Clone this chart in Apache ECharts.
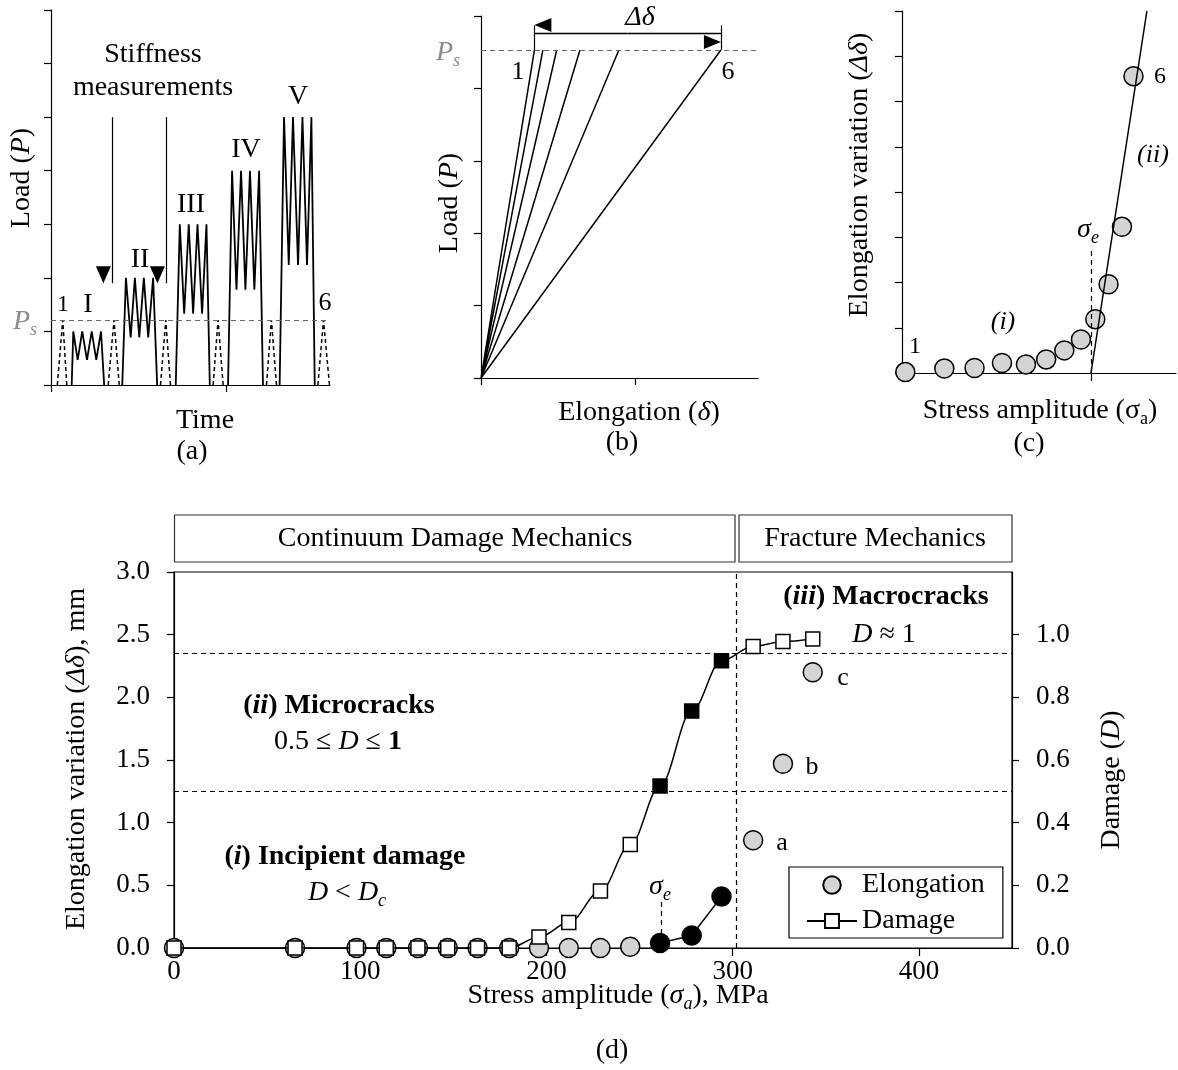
<!DOCTYPE html>
<html>
<head>
<meta charset="utf-8">
<script src="https://cdn.jsdelivr.net/npm/echarts@6/dist/echarts.min.js"></script>
<style>html,body{margin:0;padding:0;background:#fff}#chart{width:1178px;height:1070px}</style>
</head>
<body>
<div id="chart"></div>
<script>
var FONT = '"Liberation Serif", "Times New Roman", serif';

// ---- (a) load history (time, load) ----
var blockI   = [[11.8,0],[12.7,1.0],[15.2,0.47],[17.8,1.0],[20.5,0.47],[23.2,1.0],[25.8,0.47],[28.5,1.0],[30.3,0]];
var blockII  = [[40.6,0],[42.7,2.0],[45.4,0.89],[47.8,2.0],[50.3,0.89],[52.9,2.0],[55.4,0.89],[58.2,2.0],[60.5,0]];
var blockIII = [[71.1,0],[73.4,3.0],[75.9,1.33],[78.5,3.0],[81.0,1.33],[83.5,3.0],[86.1,1.33],[88.6,3.0],[90.5,0]];
var blockIV  = [[100.9,0],[103.2,4.0],[105.7,1.78],[108.3,4.0],[110.8,1.78],[113.4,4.0],[115.9,1.78],[118.6,4.0],[120.8,0]];
var blockV   = [[130.3,0],[132.8,5.0],[135.5,2.24],[137.9,5.0],[140.8,2.24],[143.3,5.0],[145.9,2.24],[148.4,5.0],[150.3,0]];
var checkTimes = [[3.6,6.7,9.0],[32.6,35.9,38.9],[62.4,65.4,68.1],[92.4,95.2,98.1],[122.8,125.6,128.5],[152.1,155.3,158.7]];
var psA = 1.21;
var arrowTimes = [34.7, 65.5];
var arrowFrom = 5.0, arrowTo = 1.9;

// ---- (b) load vs elongation ----
var secantTops = [34.7, 40.2, 49.2, 64.3, 89.6, 155.9];
var psB = 4.53;
var deltaY = 4.76, deltaTick = 4.87;

// ---- (c) schematic elongation variation ----
var cStress = [1.75, 22.4, 38.4, 52.9, 65.6, 76.3, 85.9, 94.7, 102.3, 109.3, 116.4, 122.5];
var cElong  = [0.02, 0.10, 0.11, 0.22, 0.19, 0.30, 0.50, 0.74, 1.19, 1.96, 3.23, 6.56];
var cFit    = [[100,0],[129.6,8]];
var cSigmaE = 100, cSigmaETop = 2.71;

// ---- (d) measured data ----
var stress     = [0,65,98,114,131,147,163,180,196,212,229,245,261,278,294,311,327,343];
var elongation = [0,0,0,0,0,0,0,0,0,0,0,0.01,0.04,0.10,0.41,0.86,1.47,2.20];
var damage     = [0,0,0,0,0,0,0,0,0.035,0.081,0.182,0.33,0.517,0.756,0.917,0.962,0.978,0.986];
var solidIdx = [12, 13, 14];
var dLow = 0.5, dHigh = 0.945, sigmaFM = 302;
var sigmaE = 261.7, sigmaETop = 0.38;

var chart = echarts.init(document.getElementById('chart'));

function axis(extra) {
  return Object.assign({
    type: 'value',
    axisLine: { show: true, onZero: false, lineStyle: { color: '#000', width: 1.2 } },
    axisTick: { show: true, inside: false, length: 7, lineStyle: { color: '#000', width: 1.2 } },
    axisLabel: { show: false },
    splitLine: { show: false }
  }, extra);
}

function rich(size, color) {
  color = color || '#000';
  var sub = Math.round(size * 0.65);
  var base = { fontFamily: FONT, fontSize: size, fill: color, lineHeight: size + 6 };
  return {
    n: base,
    i: Object.assign({}, base, { fontStyle: 'italic' }),
    b: Object.assign({}, base, { fontWeight: 'bold' }),
    bi: Object.assign({}, base, { fontWeight: 'bold', fontStyle: 'italic' }),
    s: { fontFamily: FONT, fontSize: sub, fill: color, verticalAlign: 'bottom', lineHeight: sub + 2 },
    si: { fontFamily: FONT, fontSize: sub, fill: color, fontStyle: 'italic', verticalAlign: 'bottom', lineHeight: sub + 2 }
  };
}

function T(x, y, text, size, color, rot) {
  return {
    type: 'text', x: x, y: y, rotation: rot || 0, silent: true, z: 100,
    style: { text: text, rich: rich(size, color), align: 'center', verticalAlign: 'middle' }
  };
}

var checkData = [];
checkTimes.forEach(function (c) {
  checkData.push([c[0], 0], [c[1], psA], [c[2], 0], [c[2], null]);
});

var secantData = [];
secantTops.forEach(function (t) { secantData.push([0, 0], [t, psB]); });
var deltaMid = (secantTops[0] + secantTops[5]) / 2;

function styled(vals, xs) {
  return xs.map(function (s, i) {
    var d = { value: [s, vals[i]] };
    if (solidIdx.indexOf(i) >= 0) d.itemStyle = { color: '#000' };
    return d;
  });
}

function blockSeries(data) {
  return { type: 'line', xAxisIndex: 0, yAxisIndex: 0, data: data, symbol: 'none',
    lineStyle: { color: '#000', width: 1.8 }, silent: true };
}

var dashed = { color: '#000', width: 1.2, type: [5, 4] };

var option = {
  animation: false,
  backgroundColor: '#fff',
  textStyle: { fontFamily: FONT },
  grid: [
    { left: 51, top: 10, width: 279, height: 375, outerBoundsMode: 'none' },
    { left: 481, top: 16, width: 277, height: 362, outerBoundsMode: 'none' },
    { left: 902, top: 11, width: 274, height: 362, outerBoundsMode: 'none' },
    { left: 174, top: 572, width: 838, height: 376, show: true, borderColor: '#000', borderWidth: 1.2, outerBoundsMode: 'none' }
  ],
  xAxis: [
    axis({ gridIndex: 0, min: 0, max: 159, axisTick: { show: true, length: 7, customValues: [0, 100], lineStyle: { color: '#000', width: 1.2 } } }),
    axis({ gridIndex: 1, min: 0, max: 180, axisTick: { show: true, length: 7, customValues: [0, 100], lineStyle: { color: '#000', width: 1.2 } } }),
    axis({ gridIndex: 2, min: 0, max: 145, axisTick: { show: true, length: 8, customValues: [0, 100], lineStyle: { color: '#000', width: 1.2 } } }),
    axis({ gridIndex: 3, min: 0, max: 450, interval: 100,
      axisTick: { show: true, length: 8, customValues: [0, 100, 200, 300, 400], lineStyle: { color: '#000', width: 1.2 } },
      axisLabel: { show: true, customValues: [0, 100, 200, 300, 400], color: '#000', fontFamily: FONT, fontSize: 27, margin: 10 } })
  ],
  yAxis: [
    axis({ gridIndex: 0, min: 0, max: 7, interval: 1 }),
    axis({ gridIndex: 1, min: 0, max: 5, interval: 1 }),
    axis({ gridIndex: 2, min: 0, max: 8, interval: 1 }),
    axis({ gridIndex: 3, min: 0, max: 3, interval: 0.5,
      axisLabel: { show: true, color: '#000', fontFamily: FONT, fontSize: 27, margin: 24,
        formatter: function (v) { return v.toFixed(1); } } }),
    axis({ gridIndex: 3, position: 'right', min: 0, max: 1.2, interval: 0.2,
      axisTick: { show: true, length: 7, customValues: [0, 0.2, 0.4, 0.6, 0.8, 1.0], lineStyle: { color: '#000', width: 1.2 } },
      axisLabel: { show: true, showMaxLabel: false, color: '#000', fontFamily: FONT, fontSize: 27, margin: 24,
        formatter: function (v) { return v.toFixed(1); } } })
  ],
  legend: {
    data: [{ name: 'Elongation', icon: 'circle' }, { name: 'Damage' }],
    orient: 'vertical', left: 789, top: 867,
    padding: [4, 18, 3, 17], itemGap: 8, itemWidth: 50, itemHeight: 17.5,
    borderColor: '#000', borderWidth: 1.2, backgroundColor: '#fff',
    textStyle: { color: '#000', fontFamily: FONT, fontSize: 28, lineHeight: 28 },
    selectedMode: false
  },
  series: [
    // (a)
    blockSeries(blockI), blockSeries(blockII), blockSeries(blockIII), blockSeries(blockIV), blockSeries(blockV),
    { type: 'line', xAxisIndex: 0, yAxisIndex: 0, data: checkData, symbol: 'none', silent: true,
      lineStyle: { color: '#000', width: 1.5, type: [4, 3] },
      markLine: { silent: true, symbol: 'none', label: { show: false },
        lineStyle: { color: '#666', width: 1.2, type: [5, 4] }, data: [{ yAxis: psA }] } },
    { type: 'line', xAxisIndex: 0, yAxisIndex: 0, data: [], silent: true,
      markLine: { silent: true, symbol: ['none', 'triangle'], symbolSize: [15, 17], symbolOffset: [0, 8.5],
        label: { show: false }, lineStyle: { color: '#000', width: 1.2, type: 'solid' }, itemStyle: { color: '#000' },
        data: arrowTimes.map(function (t) { return [{ coord: [t, arrowFrom] }, { coord: [t, arrowTo] }]; }) } },
    // (b)
    { type: 'line', xAxisIndex: 1, yAxisIndex: 1, data: secantData, symbol: 'none', silent: true,
      lineStyle: { color: '#000', width: 1.5 },
      markLine: { silent: true, symbol: 'none', label: { show: false },
        lineStyle: { color: '#666', width: 1.2, type: [5, 4] }, data: [{ yAxis: psB }] } },
    { type: 'line', xAxisIndex: 1, yAxisIndex: 1, data: [], silent: true,
      markLine: { silent: true, symbol: ['none', 'triangle'], symbolSize: [14, 17], symbolOffset: [0, 8.5],
        label: { show: false }, lineStyle: { color: '#000', width: 1.4, type: 'solid' }, itemStyle: { color: '#000' },
        data: [[{ coord: [deltaMid, deltaY] }, { coord: [secantTops[0], deltaY] }],
               [{ coord: [deltaMid, deltaY] }, { coord: [secantTops[5], deltaY] }]] } },
    { type: 'line', xAxisIndex: 1, yAxisIndex: 1, data: [], silent: true,
      markLine: { silent: true, symbol: 'none', label: { show: false },
        lineStyle: { color: '#000', width: 1.2, type: 'solid' },
        data: [[{ coord: [secantTops[0], psB] }, { coord: [secantTops[0], deltaTick] }],
               [{ coord: [secantTops[5], psB] }, { coord: [secantTops[5], deltaTick] }]] } },
    // (c)
    { type: 'line', xAxisIndex: 2, yAxisIndex: 2, data: cFit, symbol: 'none', silent: true,
      lineStyle: { color: '#000', width: 1.5 },
      markLine: { silent: true, symbol: 'none', label: { show: false }, lineStyle: dashed,
        data: [[{ coord: [cSigmaE, 0] }, { coord: [cSigmaE, cSigmaETop] }]] } },
    { type: 'scatter', xAxisIndex: 2, yAxisIndex: 2, silent: true, symbol: 'circle', symbolSize: 19,
      itemStyle: { color: '#d4d4d4', borderColor: '#000', borderWidth: 1.5, opacity: 1 },
      data: cStress.map(function (s, i) { return [s, cElong[i]]; }) },
    // (d)
    { type: 'line', xAxisIndex: 3, yAxisIndex: 3, silent: true, symbol: 'none',
      lineStyle: { color: '#000', width: 1.5 },
      data: solidIdx.map(function (i) { return [stress[i], elongation[i]]; }),
      markLine: { silent: true, symbol: 'none', label: { show: false }, lineStyle: dashed,
        data: [[{ coord: [sigmaE, elongation[12]] }, { coord: [sigmaE, sigmaETop] }], { xAxis: sigmaFM }] } },
    { name: 'Elongation', type: 'scatter', xAxisIndex: 3, yAxisIndex: 3, silent: true,
      symbol: 'circle', symbolSize: 19,
      itemStyle: { color: '#d4d4d4', borderColor: '#000', borderWidth: 1.5, opacity: 1 },
      data: styled(elongation, stress) },
    { name: 'Damage', type: 'line', xAxisIndex: 3, yAxisIndex: 4, silent: true,
      smooth: 0.35, smoothMonotone: 'x',
      symbol: 'rect', symbolSize: 14, showAllSymbol: true,
      lineStyle: { color: '#000', width: 1.5 },
      itemStyle: { color: '#fff', borderColor: '#000', borderWidth: 1.5, opacity: 1 },
      data: styled(damage, stress),
      markLine: { silent: true, symbol: 'none', label: { show: false }, lineStyle: dashed,
        data: [{ yAxis: dLow }, { yAxis: dHigh }] } }
  ],
  graphic: [
    { type: 'rect', shape: { x: 174.5, y: 515, width: 560.5, height: 47 }, style: { fill: '#fff', stroke: '#333', lineWidth: 1.2 }, silent: true },
    { type: 'rect', shape: { x: 739, y: 515, width: 273, height: 47 }, style: { fill: '#fff', stroke: '#333', lineWidth: 1.2 }, silent: true },
    // (a)
    T(153, 55, '{n|Stiffness}', 28),
    T(153, 88, '{n|measurements}', 28),
    T(88, 305, '{n|I}', 28), T(140, 260, '{n|II}', 28), T(191, 205, '{n|III}', 28),
    T(246, 150, '{n|IV}', 28), T(298, 97, '{n|V}', 28),
    T(63, 305, '{n|1}', 24), T(325, 303, '{n|6}', 26),
    T(25, 322, '{i|P}{si|s}', 28, '#8c8c8c'),
    T(22, 178, '{n|Load (}{i|P}{n|)}', 28, null, Math.PI / 2),
    T(205, 421, '{n|Time}', 28),
    T(192, 452, '{n|(a)}', 28),
    // (b)
    T(640, 18, '{i|Δδ}', 28),
    T(448, 53, '{i|P}{si|s}', 28, '#8c8c8c'),
    T(518, 72, '{n|1}', 26), T(728, 72, '{n|6}', 26),
    T(450, 203, '{n|Load (}{i|P}{n|)}', 28, null, Math.PI / 2),
    T(639, 413, '{n|Elongation (}{i|δ}{n|)}', 28),
    T(622, 443, '{n|(b)}', 28),
    // (c)
    T(860, 175, '{n|Elongation variation (}{i|Δδ}{n|)}', 28, null, Math.PI / 2),
    T(1040, 411, '{n|Stress amplitude (σ}{s|a}{n|)}', 28),
    T(1029, 444, '{n|(c)}', 28),
    T(915, 347, '{n|1}', 24), T(1160, 77, '{n|6}', 24),
    T(1003, 322, '{i|(i)}', 26), T(1153, 155, '{i|(ii)}', 26),
    T(1088, 230, '{i|σ}{si|e}', 28),
    // (d)
    T(455, 539, '{n|Continuum Damage Mechanics}', 28),
    T(875, 539, '{n|Fracture Mechanics}', 28),
    T(886, 597, '{b|(}{bi|iii}{b|) Macrocracks}', 28),
    T(884, 635, '{i|D}{n| ≈ 1}', 28),
    T(339, 706, '{b|(}{bi|ii}{b|) Microcracks}', 28),
    T(338, 742, '{n|0.5 ≤ }{i|D}{n| ≤ }{b|1}', 28),
    T(345, 857, '{b|(}{bi|i}{b|) Incipient damage}', 28),
    T(347, 893, '{i|D}{n| < }{i|D}{si|c}', 28),
    T(843, 678, '{n|c}', 26), T(812, 767, '{n|b}', 26), T(782, 843, '{n|a}', 26),
    T(660, 887, '{i|σ}{si|e}', 28),
    T(77, 759, '{n|Elongation variation (}{i|Δδ}{n|), mm}', 28, null, Math.PI / 2),
    T(1112, 780, '{n|Damage (}{i|D}{n|)}', 28, null, Math.PI / 2),
    T(618, 996, '{n|Stress amplitude (}{i|σ}{si|a}{n|), MPa}', 28),
    T(612, 1051, '{n|(d)}', 28)
  ]
};

chart.setOption(option);
</script>
</body>
</html>
